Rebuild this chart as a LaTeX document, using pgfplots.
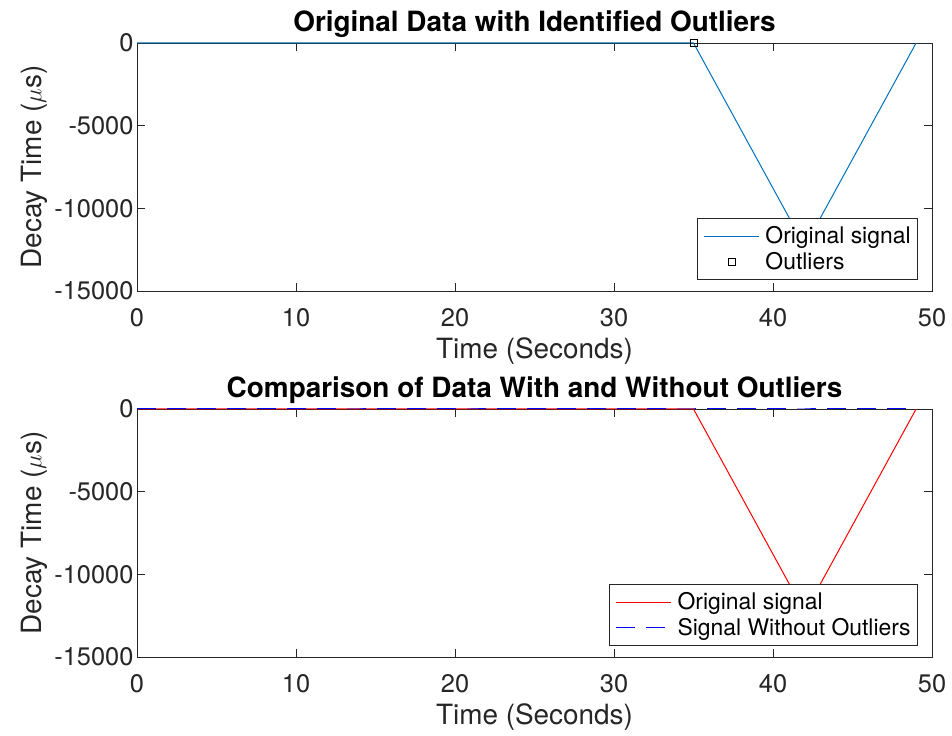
\documentclass[border=0pt]{standalone}
\usepackage{fontspec}
\setmainfont{TeX Gyre Heros}
\usepackage{pgfplots}
\pgfplotsset{compat=1.18}

\definecolor{axgray}{gray}{0.15}
\definecolor{mlblue}{HTML}{0072BD}

% Decay time samples, one every 7 s
\pgfplotstableread{
t y
0 0
7 0
14 0
21 0
28 0
35 0
42 -12300
49 0
}\signal

\pgfplotsset{
  panel/.style={
    width=795bp, height=248bp, scale only axis,
    xmin=0, xmax=50, ymin=-15000, ymax=0,
    scaled y ticks=false,
    xtick={0,10,...,50}, xticklabels={0,10,20,30,40,50},
    ytick={-15000,-10000,-5000,0}, yticklabels={-15000,-10000,-5000,0},
    axis line style={axgray, line width=0.8bp},
    tick style={axgray, line width=0.8bp},
    major tick length=8bp,
    tick label style={axgray, font=\fontsize{25.5}{28}\selectfont},
    xticklabel style={yshift=-14bp},
    label style={axgray, font=\fontsize{28}{32}\selectfont},
    xlabel style={yshift=-4bp},
    title style={black, font=\fontsize{28}{32}\selectfont\bfseries, yshift=-4bp},
    xlabel={Time (Seconds)},
    ylabel={Decay Time ($\mu$s)},
    clip=false,
    legend cell align=left,
    legend style={at={(1,0)}, anchor=south east, xshift=-14bp, yshift=11bp,
      draw=axgray, line width=0.8bp, fill=white,
      font=\fontsize{23}{27}\selectfont,
      inner xsep=3.5bp, inner ysep=5bp, row sep=0bp,
      nodes={inner sep=3.5bp}},
  },
  % legend sample: a 55bp stroke with a little room on the left
  sample/.style={legend image code/.code={%
      \path[draw=none] (0bp,0bp) -- (61bp,0bp);
      \draw[#1, line width=1bp] (3bp,0bp) -- (58bp,0bp);}},
}

\begin{document}
\begin{tikzpicture}
\useasboundingbox (0,0) rectangle (952bp,736bp);

\begin{axis}[panel, at={(137bp,693bp)}, anchor=north west,
  title={Original Data with Identified Outliers}]
  \addplot[mlblue, line width=1bp, sample={draw=mlblue}]
    table[x=t, y=y] {\signal};
  \addlegendentry{Original signal}
  \addplot[only marks, mark=square, mark size=3.5bp,
    mark options={black, line width=0.8bp, fill=white},
    legend image code/.code={%
      \path[draw=none] (0bp,0bp) -- (61bp,0bp);
      \draw[draw=black, fill=white, line width=0.8bp] (27bp,-3.5bp) rectangle (34bp,3.5bp);}]
    coordinates {(35,0)};
  \addlegendentry{Outliers}
\end{axis}

\begin{axis}[panel, at={(137bp,327bp)}, anchor=north west,
  title={Comparison of Data With and Without Outliers}]
  \addplot[red, line width=1bp, sample={draw=red}]
    table[x=t, y=y] {\signal};
  \addlegendentry{Original signal}
  \addplot[blue, line width=1bp, dash pattern=on 19bp off 11bp,
    sample={draw=blue, dash pattern=on 19bp off 11bp}]
    coordinates {(0,0) (7,0) (14,0) (21,0) (28,0) (35,0) (42,0) (49,0)};
  \addlegendentry{Signal Without Outliers}
\end{axis}
\end{tikzpicture}
\end{document}
